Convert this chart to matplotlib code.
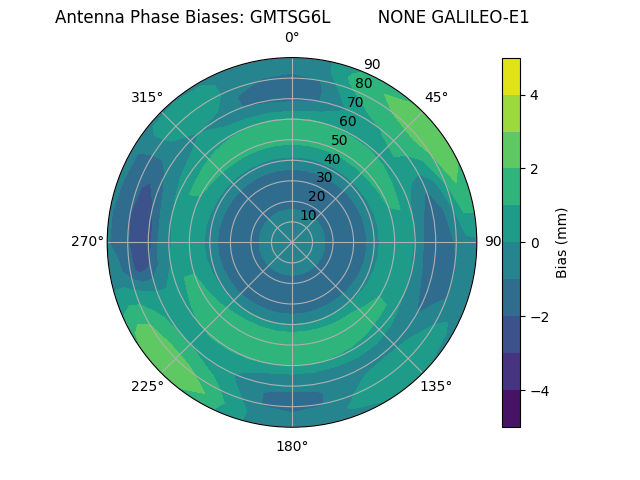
import numpy as np
import matplotlib
matplotlib.use("Agg")
import matplotlib.pyplot as plt

# Zenith angles (deg) of the grid rows
zeniths = [0, 5, 10, 15, 20, 25, 30, 35, 40, 45, 50, 55, 60, 65, 70, 75, 80, 85, 90]
# Bias (mm) for zenith 0..30, same at every azimuth
inner = [-0.6, -0.65, -0.8, -0.95, -1.2, -1.4, -1.5]

# Bias (mm) for zenith 35..90 at each azimuth (deg, clockwise from North)
bias_az000 = [-1.10, -0.30, 0.60, 1.30, 1.50, 1.10, -0.30, -1.30, -1.50, -1.20, -0.80, -0.60]
bias_az010 = [-1.10, -0.30, 0.60, 1.30, 1.50, 1.10, -0.10, -1.10, -1.20, -1.00, -0.50, -0.30]
bias_az020 = [-1.10, -0.30, 0.60, 1.30, 1.45, 1.00, 0.30, -0.20, 0.20, 0.80, 1.20, 0.80]
bias_az030 = [-1.10, -0.30, 0.60, 1.30, 1.40, 0.90, 0.50, 0.60, 1.20, 1.70, 1.90, 1.50]
bias_az040 = [-1.10, -0.30, 0.60, 1.30, 1.35, 0.90, 0.80, 1.10, 1.60, 2.10, 2.40, 1.90]
bias_az050 = [-1.15, -0.30, 0.60, 1.25, 1.30, 0.80, 1.00, 1.30, 1.70, 2.30, 2.60, 2.10]
bias_az060 = [-1.15, -0.35, 0.50, 1.15, 1.20, 0.50, 0.30, 0.20, 0.80, 1.90, 2.60, 2.20]
bias_az070 = [-1.20, -0.40, 0.45, 1.00, 1.05, 0.20, -0.60, -1.10, -0.50, 0.90, 2.00, 1.70]
bias_az080 = [-1.20, -0.40, 0.40, 0.85, 0.90, 0.00, -1.00, -1.40, -1.20, -0.20, 1.00, 1.10]
bias_az090 = [-1.25, -0.40, 0.40, 0.80, 0.80, -0.20, -1.20, -1.60, -1.40, -0.90, -0.30, -0.20]
bias_az100 = [-1.25, -0.40, 0.40, 0.80, 0.80, -0.20, -1.10, -1.50, -1.40, -1.10, -0.60, -0.50]
bias_az110 = [-1.20, -0.35, 0.45, 0.85, 0.90, -0.10, -0.90, -1.30, -1.30, -1.00, -0.50, -0.50]
bias_az120 = [-1.15, -0.30, 0.55, 0.95, 0.95, 0.10, -0.60, -1.00, -0.50, 0.00, 0.20, -0.30]
bias_az130 = [-1.10, -0.20, 0.80, 1.20, 1.10, 0.40, -0.30, -0.50, 0.20, 0.70, 0.70, -0.10]
bias_az140 = [-1.05, -0.10, 1.00, 1.40, 1.30, 0.60, -0.10, -0.30, 0.40, 0.85, 0.85, 0.00]
bias_az150 = [-1.00, 0.00, 1.10, 1.50, 1.50, 0.80, -0.10, -0.40, 0.20, 0.70, 0.75, -0.10]
bias_az160 = [-1.00, 0.00, 1.20, 1.60, 1.60, 0.90, -0.20, -0.60, -0.50, -0.20, 0.10, -0.30]
bias_az170 = [-1.00, 0.00, 1.30, 1.60, 1.60, 1.00, -0.20, -0.70, -1.10, -1.10, -0.60, -0.50]
bias_az180 = [-1.00, 0.00, 1.30, 1.60, 1.60, 1.00, -0.20, -0.70, -1.30, -1.30, -0.80, -0.50]
bias_az190 = [-1.00, 0.00, 1.30, 1.65, 1.65, 1.00, -0.10, -0.60, -1.10, -1.10, -0.60, -0.40]
bias_az200 = [-1.00, 0.00, 1.30, 1.65, 1.65, 1.10, 0.20, -0.20, -0.10, 0.30, 0.60, 0.30]
bias_az210 = [-1.00, 0.00, 1.25, 1.60, 1.60, 1.10, 0.40, 0.30, 0.90, 1.50, 2.00, 1.60]
bias_az220 = [-1.05, -0.10, 1.10, 1.50, 1.50, 1.10, 0.60, 0.80, 1.50, 2.30, 2.60, 2.10]
bias_az230 = [-1.10, -0.15, 0.90, 1.35, 1.35, 1.00, 0.70, 1.00, 1.70, 2.40, 2.70, 2.20]
bias_az240 = [-1.10, -0.20, 0.80, 1.20, 1.20, 0.80, 0.50, 0.70, 1.30, 2.00, 2.30, 1.80]
bias_az250 = [-1.15, -0.30, 0.60, 1.05, 1.05, 0.40, 0.00, 0.00, 0.40, 0.70, 0.80, 0.50]
bias_az260 = [-1.20, -0.40, 0.40, 0.80, 0.80, 0.00, -0.70, -1.90, -2.40, -1.70, -0.80, -0.60]
bias_az270 = [-1.20, -0.40, 0.30, 0.70, 0.70, -0.20, -0.90, -2.50, -2.90, -1.90, -1.30, -0.90]
bias_az280 = [-1.20, -0.40, 0.35, 0.75, 0.80, -0.10, -0.90, -2.30, -2.70, -2.00, -1.30, -0.90]
bias_az290 = [-1.15, -0.35, 0.45, 0.90, 0.95, 0.10, -0.60, -1.60, -2.30, -1.80, -1.20, -0.80]
bias_az300 = [-1.10, -0.30, 0.50, 1.05, 1.05, 0.40, -0.30, -0.80, -1.30, -1.30, -1.10, -0.80]
bias_az310 = [-1.10, -0.30, 0.55, 1.20, 1.20, 0.60, 0.00, -0.30, -0.10, 0.20, 0.30, -0.20]
bias_az320 = [-1.10, -0.30, 0.60, 1.25, 1.30, 0.80, 0.10, 0.00, 0.40, 0.60, 0.50, -0.10]
bias_az330 = [-1.10, -0.30, 0.60, 1.30, 1.40, 0.90, 0.00, -0.30, 0.20, 0.50, 0.30, -0.20]
bias_az340 = [-1.10, -0.30, 0.60, 1.30, 1.45, 1.00, -0.20, -1.00, -1.10, -0.70, -0.50, -0.40]
bias_az350 = [-1.10, -0.30, 0.60, 1.30, 1.50, 1.10, -0.30, -1.20, -1.40, -1.10, -0.70, -0.50]

azimuths = list(range(0, 360, 10))
outer_cols = [bias_az000, bias_az010, bias_az020, bias_az030, bias_az040, bias_az050,
              bias_az060, bias_az070, bias_az080, bias_az090, bias_az100, bias_az110,
              bias_az120, bias_az130, bias_az140, bias_az150, bias_az160, bias_az170,
              bias_az180, bias_az190, bias_az200, bias_az210, bias_az220, bias_az230,
              bias_az240, bias_az250, bias_az260, bias_az270, bias_az280, bias_az290,
              bias_az300, bias_az310, bias_az320, bias_az330, bias_az340, bias_az350]

levels = np.arange(-5, 6, 1)
title = "Antenna Phase Biases: GMTSG6L         NONE GALILEO-E1"

cols = [inner + c for c in outer_cols]
cols.append(cols[0])  # close the circle at 360 deg
Z = np.array(cols).T  # shape (zenith, azimuth)
az = np.deg2rad(np.array(azimuths + [360]))
zen = np.array(zeniths)
TH, R = np.meshgrid(az, zen)

fig = plt.figure(figsize=(6.4, 4.8), dpi=100)
ax = fig.add_subplot(111, projection="polar")
ax.set_theta_zero_location("N")
ax.set_theta_direction(-1)
cf = ax.contourf(TH, R, Z, levels=levels, cmap="viridis")
ax.set_ylim(0, 90)
ax.set_yticks(np.arange(10, 91, 10))
ax.grid(True)
ax.set_title(title)
fig.colorbar(cf, ax=ax, label="Bias (mm)")
fig.savefig("out.png", dpi=100)
